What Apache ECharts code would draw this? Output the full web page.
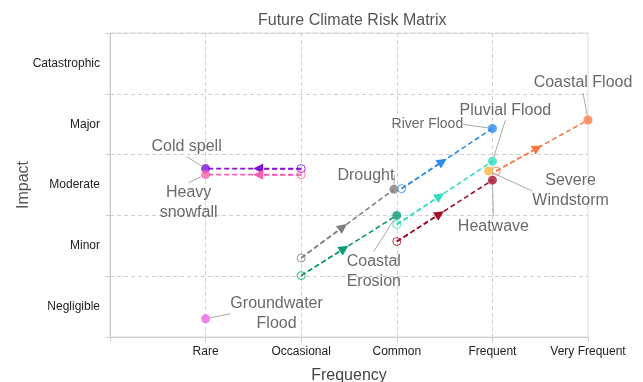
<!DOCTYPE html>
<html>
<head>
<meta charset="utf-8">
<script src="https://cdn.jsdelivr.net/npm/echarts@6/dist/echarts.min.js"></script>
<style>
  html, body { margin: 0; padding: 0; background: #fff; }
  #chart { width: 643px; height: 382px; }
</style>
</head>
<body>
<div id="chart"></div>
<script>
// axis categories
var frequencyLabels = ['', 'Rare', 'Occasional', 'Common', 'Frequent', 'Very Frequent'];
var impactLabels = ['Negligible', 'Minor', 'Moderate', 'Major', 'Catastrophic'];

// risks: current position (open circle) -> future position (filled circle)
var risks = ['Cold spell', 'Heavy snowfall', 'Groundwater Flood', 'Drought', 'River Flood',
             'Coastal Erosion', 'Pluvial Flood', 'Heatwave', 'Severe Windstorm', 'Coastal Flood'];
var currentFreq   = [2.0, 2.0, null, 2.0, 3.05, 2.0, 3.0, 3.0, null, 4.04];
var currentImpact = [2.77, 2.67, null, 1.30, 2.44, 1.01, 1.85, 1.57, null, 2.73];
var futureFreq    = [1.0, 1.0, 1.0, 2.97, 4.0, 3.0, 4.0, 4.0, 3.96, 5.0];
var futureImpact  = [2.77, 2.67, 0.30, 2.43, 3.43, 2.0, 2.89, 2.58, 2.73, 3.57];
var riskColors = ['#7d12d8', '#fb5fb0', '#f062ec', '#808080', '#2b8de8',
                  '#0e9a77', '#2fe0c0', '#a2102c', '#f8b63d', '#fb7a47'];

// label layout (text wrapping and pixel offset from the future point)
var labelText = ['Cold spell', 'Heavy\nsnowfall', 'Groundwater\nFlood', 'Drought', 'River Flood',
                 'Coastal\nErosion', 'Pluvial Flood', 'Heatwave', 'Severe\nWindstorm', 'Coastal Flood'];
var labelOffset = [[-19, -22], [-17, 28], [71, -5], [-28, -14], [-65, -4],
                   [-23, 56], [13, -51], [1, 46], [82, 20], [-5, -37]];
var ARROW_T = 0.45;

var FONT = 'Liberation Sans, Arial, sans-serif';
var chart = echarts.init(document.getElementById('chart'));

var series = [];
risks.forEach(function (name, i) {
    if (currentFreq[i] == null) return;
    var dash = { color: riskColors[i], width: 1.6, type: [5, 3] };
    var mid = [currentFreq[i] + ARROW_T * (futureFreq[i] - currentFreq[i]),
               currentImpact[i] + ARROW_T * (futureImpact[i] - currentImpact[i])];
    series.push({
        type: 'line',
        yAxisIndex: 1,
        silent: true,
        symbol: 'none',
        data: [[currentFreq[i], currentImpact[i]], [futureFreq[i], futureImpact[i]]],
        lineStyle: dash,
        z: 2,
        // arrowhead part way along the trajectory, oriented by the line itself
        markLine: {
            silent: true,
            animation: false,
            symbol: ['none', 'triangle'],
            symbolSize: 10,
            label: { show: false },
            lineStyle: dash,
            data: [[{ coord: [currentFreq[i], currentImpact[i]] }, { coord: mid }]]
        }
    });
});

var currentPts = [];
var futurePts = [];
risks.forEach(function (name, i) {
    if (currentFreq[i] != null) {
        currentPts.push({
            value: [currentFreq[i], currentImpact[i]],
            itemStyle: { color: 'rgba(255,255,255,0)', borderColor: riskColors[i] }
        });
    }
    var item = { name: name, value: [futureFreq[i], futureImpact[i]], itemStyle: { color: riskColors[i] } };
    if (name === 'River Flood') item.label = { fontSize: 14 };
    futurePts.push(item);
});

series.push({
    type: 'scatter',
    yAxisIndex: 1,
    symbol: 'circle',
    symbolSize: 8,
    itemStyle: { borderWidth: 1, opacity: 0.85 },
    data: currentPts,
    z: 4
});
series.push({
    type: 'scatter',
    yAxisIndex: 1,
    symbol: 'circle',
    symbolSize: 9,
    data: futurePts,
    label: {
        show: true,
        position: 'inside',
        formatter: function (p) { return labelText[risks.indexOf(p.name)]; },
        fontSize: 16,
        lineHeight: 20,
        color: '#444',
        fontFamily: FONT
    },
    labelLine: { show: true, lineStyle: { color: '#aaa', width: 1 } },
    labelLayout: function (p) {
        var o = labelOffset[p.dataIndex];
        return { dx: o[0], dy: o[1] };
    },
    z: 5
});

var option = {
    animation: false,
    backgroundColor: '#fff',
    title: {
        text: 'Future Climate Risk Matrix',
        left: 253,
        top: 8,
        textStyle: { fontSize: 16, fontWeight: 'normal', color: '#555', fontFamily: FONT }
    },
    grid: {
        left: 110, right: 55, top: 33, bottom: 45,
        outerBoundsMode: 'none',
        show: true, borderColor: '#dcdcdc', borderWidth: 1
    },
    xAxis: {
        type: 'value',
        min: 0, max: 5, interval: 1,
        name: 'Frequency',
        nameLocation: 'middle',
        nameGap: 31,
        nameMoveOverlap: false,
        nameTextStyle: { fontSize: 16, color: '#444', fontFamily: FONT },
        axisLine: { show: true, lineStyle: { color: '#ccc' } },
        axisTick: { show: true, length: 5, lineStyle: { color: '#ccc' } },
        axisLabel: {
            color: '#222', fontSize: 12, margin: 9, fontFamily: FONT,
            formatter: function (v) { return frequencyLabels[v] || ''; }
        },
        splitLine: { show: true, showMinLine: false, showMaxLine: false, lineStyle: { type: [4, 3], color: '#cfcfcf' } }
    },
    yAxis: [{
        type: 'category',
        data: impactLabels,
        boundaryGap: true,
        name: 'Impact',
        nameLocation: 'middle',
        nameGap: 78,
        nameMoveOverlap: false,
        nameTextStyle: { fontSize: 16, color: '#555', fontFamily: FONT },
        axisLine: { show: true, lineStyle: { color: '#ccc' } },
        axisTick: { show: true, length: 4, lineStyle: { color: '#ccc' } },
        axisLabel: { color: '#222', fontSize: 12, margin: 10, fontFamily: FONT },
        splitLine: { show: true, lineStyle: { type: [4, 3], color: '#cfcfcf' } }
    }, {
        type: 'value',
        min: 0, max: 5,
        show: false
    }],
    series: series
};

chart.setOption(option);
</script>
</body>
</html>
